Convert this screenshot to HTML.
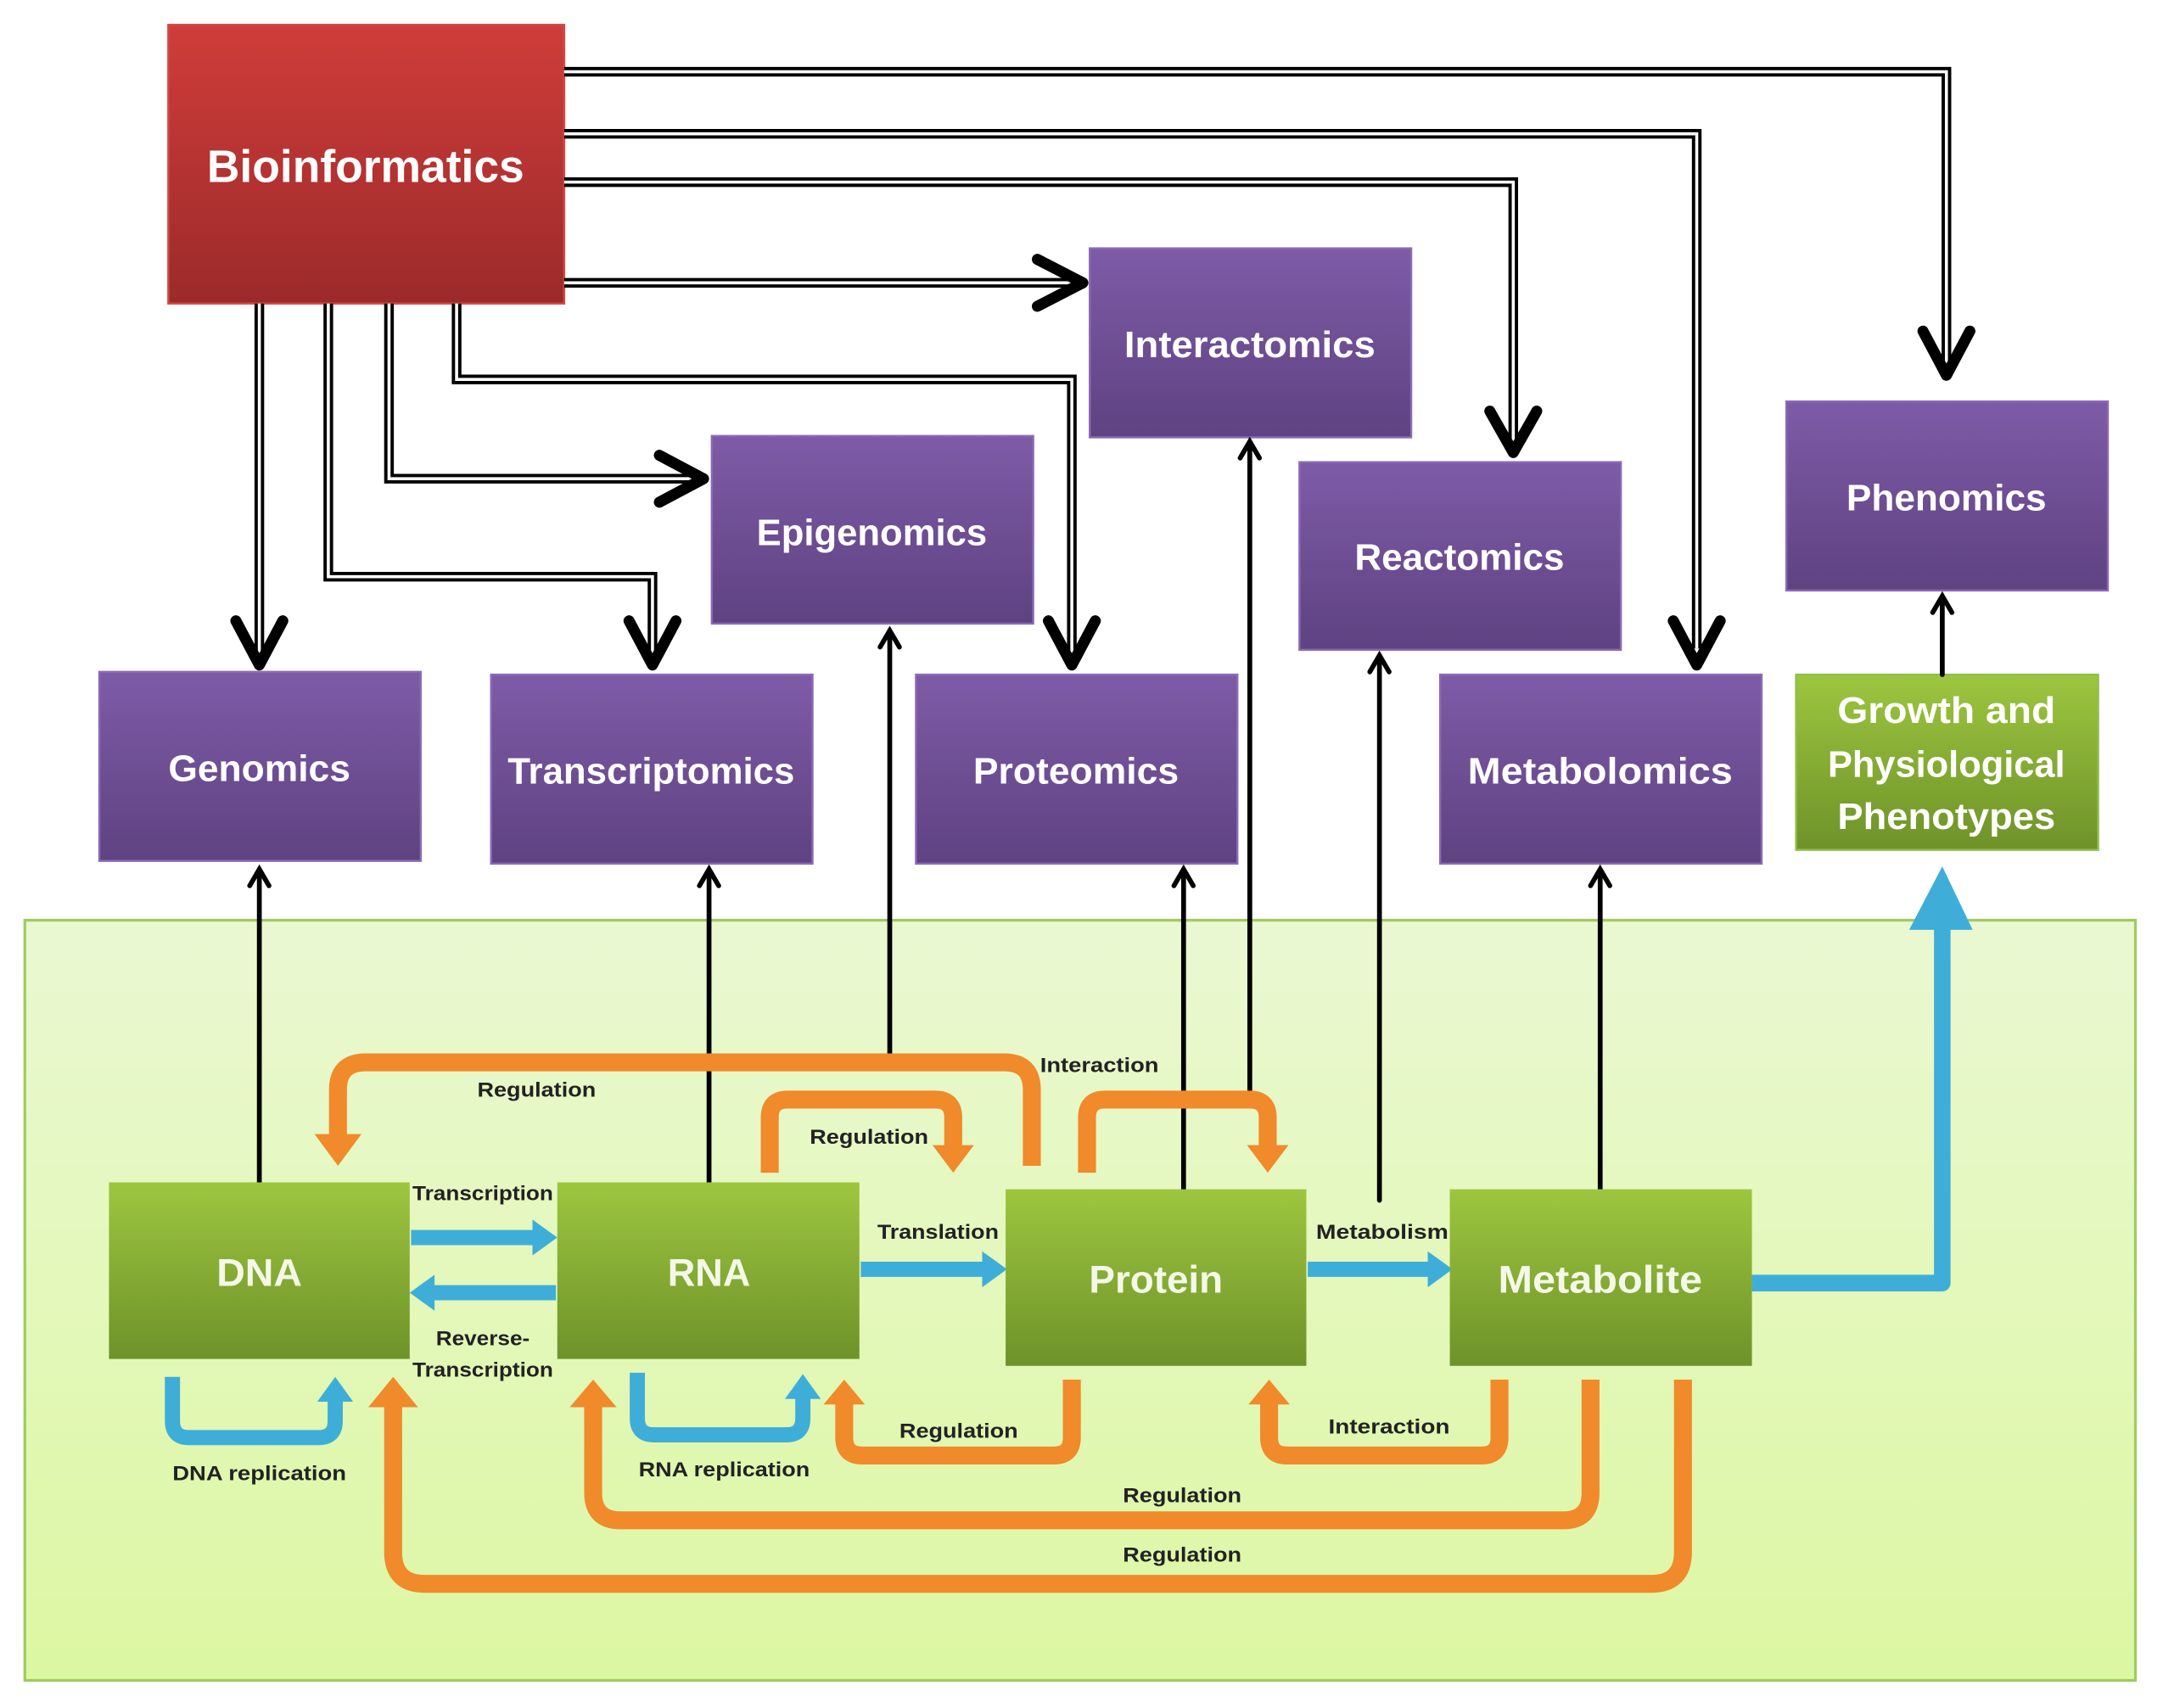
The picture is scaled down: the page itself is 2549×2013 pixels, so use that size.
<!DOCTYPE html>
<html><head><meta charset="utf-8"><style>
html,body{margin:0;padding:0;background:#fff}
svg{display:block}
text{font-family:"Liberation Sans Narrow","Liberation Sans",sans-serif;font-weight:bold}
</style></head><body>
<svg width="2549" height="2013" viewBox="0 0 1568 1238" preserveAspectRatio="none" xmlns="http://www.w3.org/2000/svg">
<defs>
<linearGradient id="red" x1="0" y1="0" x2="0" y2="1"><stop offset="0" stop-color="#cf3d3a"/><stop offset="1" stop-color="#9c2a2a"/></linearGradient>
<linearGradient id="pur" x1="0" y1="0" x2="0" y2="1"><stop offset="0" stop-color="#7e5ba7"/><stop offset="1" stop-color="#5e4281"/></linearGradient>
<linearGradient id="grn" x1="0" y1="0" x2="0" y2="1"><stop offset="0" stop-color="#9dc63f"/><stop offset="1" stop-color="#6e9229"/></linearGradient>
<linearGradient id="bg" x1="0" y1="0" x2="0" y2="1"><stop offset="0" stop-color="#eaf8d2"/><stop offset="1" stop-color="#dcf7a2"/></linearGradient>
</defs>
<rect x="18" y="667" width="1530" height="551" fill="url(#bg)" stroke="#9fcc5e" stroke-width="2"/>

<!-- boxes -->
<rect x="122" y="18" width="287" height="202" fill="url(#red)" stroke="#d14a45" stroke-width="1.5"/>
<text x="265" y="132" font-size="33" fill="#fff" text-anchor="middle" textLength="230" lengthAdjust="spacingAndGlyphs">Bioinformatics</text>
<g fill="url(#pur)" stroke="#8a6ab5" stroke-width="1.5">
<rect x="790" y="180" width="233" height="137"/>
<rect x="516" y="316" width="233" height="136"/>
<rect x="942" y="335" width="233" height="136"/>
<rect x="1295" y="291" width="233" height="137"/>
<rect x="72" y="487" width="233" height="137"/>
<rect x="356" y="489" width="233" height="137"/>
<rect x="664" y="489" width="233" height="137"/>
<rect x="1044" y="489" width="233" height="137"/>
</g>
<g font-size="27" fill="#fff" text-anchor="middle">
<text x="906" y="259" textLength="182" lengthAdjust="spacingAndGlyphs">Interactomics</text>
<text x="632" y="395" textLength="167" lengthAdjust="spacingAndGlyphs">Epigenomics</text>
<text x="1058" y="413" textLength="152" lengthAdjust="spacingAndGlyphs">Reactomics</text>
<text x="1411" y="370" textLength="145" lengthAdjust="spacingAndGlyphs">Phenomics</text>
<text x="188" y="566" textLength="132" lengthAdjust="spacingAndGlyphs">Genomics</text>
<text x="472" y="568" textLength="208" lengthAdjust="spacingAndGlyphs">Transcriptomics</text>
<text x="780" y="568" textLength="149" lengthAdjust="spacingAndGlyphs">Proteomics</text>
<text x="1160" y="568" textLength="192" lengthAdjust="spacingAndGlyphs">Metabolomics</text>
</g>
<rect x="1302" y="489" width="219" height="127" fill="url(#grn)" stroke="#8fbf4a" stroke-width="1.5"/>
<g font-size="27" fill="#fff" text-anchor="middle">
<text x="1411" y="524" textLength="158" lengthAdjust="spacingAndGlyphs">Growth and</text>
<text x="1411" y="563" textLength="172" lengthAdjust="spacingAndGlyphs">Physiological</text>
<text x="1411" y="601" textLength="158" lengthAdjust="spacingAndGlyphs">Phenotypes</text>
</g>

<!-- double lines -->
<g fill="none" stroke-linejoin="miter">
<g stroke="#000" stroke-width="7">
<path d="M409 52 H1411 V265"/><path d="M409 97 H1230 V470"/><path d="M409 132 H1097 V320"/><path d="M409 205 H775"/>
<path d="M188 220 V475"/><path d="M238 220 V418 H473 V475"/><path d="M282 220 V347 H500"/><path d="M331 220 V275 H777 V475"/>
</g>
<g stroke="#fff" stroke-width="2.2">
<path d="M409 52 H1411 V265"/><path d="M409 97 H1230 V470"/><path d="M409 132 H1097 V320"/><path d="M409 205 H775"/>
<path d="M188 220 V475"/><path d="M238 220 V418 H473 V475"/><path d="M282 220 V347 H500"/><path d="M331 220 V275 H777 V475"/>
</g>
<g stroke="#000" stroke-width="8" stroke-linecap="round" stroke-linejoin="round">
<path d="M1394 240 L1411 272 L1428 240"/>
<path d="M1213 450 L1230 482 L1247 450"/>
<path d="M1080 298 L1097 328 L1114 298"/>
<path d="M752 188 L785 205 L752 222"/>
<path d="M171 450 L188 482 L205 450"/>
<path d="M456 450 L473 482 L490 450"/>
<path d="M478 330 L510 347 L478 364"/>
<path d="M760 450 L777 482 L794 450"/>
</g>
</g>

<!-- thin up arrows -->
<g stroke="#000" stroke-width="3.5" fill="none" stroke-linecap="round">
<path d="M188 857 V630 M181 642 L188 630 L195 642"/>
<path d="M514 857 V630 M507 642 L514 630 L521 642"/>
<path d="M645 765 V457 M638 469 L645 457 L652 469"/>
<path d="M858 862 V630 M851 642 L858 630 L865 642"/>
<path d="M906 790 V320 M899 332 L906 320 L913 332"/>
<path d="M1000 870 V475 M993 487 L1000 475 L1007 487"/>
<path d="M1160 862 V630 M1153 642 L1160 630 L1167 642"/>
<path d="M1408 489 V432 M1401 444 L1408 432 L1415 444"/>
</g>

<!-- orange arrows -->
<g fill="none" stroke="#f08a2b" stroke-width="13" stroke-linejoin="round">
<path d="M748 845 V790 Q748 770 728 770 H265 Q245 770 245 790 V825"/>
<path d="M558 850 V810 Q558 797 571 797 H678 Q691 797 691 810 V833"/>
<path d="M788 850 V810 Q788 797 801 797 H906 Q919 797 919 810 V833"/>
<path d="M777 1000 V1042 Q777 1055 764 1055 H625 Q612 1055 612 1042 V1015"/>
<path d="M1087 1000 V1042 Q1087 1055 1074 1055 H933 Q920 1055 920 1042 V1015"/>
<path d="M1153 1000 V1082 Q1153 1102 1133 1102 H450 Q430 1102 430 1082 V1015"/>
<path d="M1220 1000 V1125 Q1220 1148 1197 1148 H308 Q285 1148 285 1125 V1015"/>
</g>
<g fill="#f08a2b">
<path d="M228 822 L262 822 L245 845 Z"/>
<path d="M676 830 L706 830 L691 850 Z"/>
<path d="M904 830 L934 830 L919 850 Z"/>
<path d="M597 1018 L627 1018 L612 1000 Z"/>
<path d="M905 1018 L935 1018 L920 1000 Z"/>
<path d="M413 1020 L447 1020 L430 1000 Z"/>
<path d="M267 1020 L303 1020 L285 998 Z"/>
</g>

<!-- blue arrows -->
<g fill="none" stroke="#3eaed8" stroke-width="11" stroke-linejoin="round">
<path d="M125 998 V1030 Q125 1042 137 1042 H231 Q243 1042 243 1030 V1015"/>
<path d="M462 995 V1028 Q462 1040 474 1040 H570 Q582 1040 582 1028 V1013"/>
<path d="M298 897 H388"/><path d="M403 937 H313"/>
<path d="M624 920 H714"/><path d="M948 920 H1037"/>
<path d="M1270 930 H1408 V665" stroke-width="12"/>
</g>
<g fill="#3eaed8">
<path d="M230 1016 L256 1016 L243 998 Z"/>
<path d="M569 1014 L595 1014 L582 996 Z"/>
<path d="M386 884 L404 897 L386 910 Z"/>
<path d="M315 924 L297 937 L315 950 Z"/>
<path d="M712 907 L730 920 L712 933 Z"/>
<path d="M1035 907 L1053 920 L1035 933 Z"/>
<path d="M1384 674 L1430 674 L1408 628 Z"/>
</g>

<!-- green molecule boxes -->
<g fill="url(#grn)">
<rect x="79" y="857" width="218" height="128"/>
<rect x="404" y="857" width="219" height="128"/>
<rect x="729" y="862" width="218" height="128"/>
<rect x="1051" y="862" width="219" height="128"/>
</g>
<g font-size="28" fill="#f4f8e8" text-anchor="middle">
<text x="188" y="932" textLength="62" lengthAdjust="spacingAndGlyphs">DNA</text>
<text x="514" y="932" textLength="60" lengthAdjust="spacingAndGlyphs">RNA</text>
<text x="838" y="937" textLength="97" lengthAdjust="spacingAndGlyphs">Protein</text>
<text x="1160" y="937" textLength="148" lengthAdjust="spacingAndGlyphs">Metabolite</text>
</g>

<!-- small labels -->
<g font-size="15" fill="#222" text-anchor="middle">
<text x="389" y="795" textLength="86" lengthAdjust="spacingAndGlyphs">Regulation</text>
<text x="797" y="777" textLength="86" lengthAdjust="spacingAndGlyphs">Interaction</text>
<text x="630" y="829" textLength="86" lengthAdjust="spacingAndGlyphs">Regulation</text>
<text x="350" y="870" textLength="102" lengthAdjust="spacingAndGlyphs">Transcription</text>
<text x="680" y="898" textLength="88" lengthAdjust="spacingAndGlyphs">Translation</text>
<text x="1002" y="898" textLength="96" lengthAdjust="spacingAndGlyphs">Metabolism</text>
<text x="350" y="975" textLength="68" lengthAdjust="spacingAndGlyphs">Reverse-</text>
<text x="350" y="998" textLength="102" lengthAdjust="spacingAndGlyphs">Transcription</text>
<text x="188" y="1073" textLength="126" lengthAdjust="spacingAndGlyphs">DNA replication</text>
<text x="525" y="1070" textLength="124" lengthAdjust="spacingAndGlyphs">RNA replication</text>
<text x="695" y="1042" textLength="86" lengthAdjust="spacingAndGlyphs">Regulation</text>
<text x="1007" y="1039" textLength="88" lengthAdjust="spacingAndGlyphs">Interaction</text>
<text x="857" y="1089" textLength="86" lengthAdjust="spacingAndGlyphs">Regulation</text>
<text x="857" y="1132" textLength="86" lengthAdjust="spacingAndGlyphs">Regulation</text>
</g>
</svg>
</body></html>
